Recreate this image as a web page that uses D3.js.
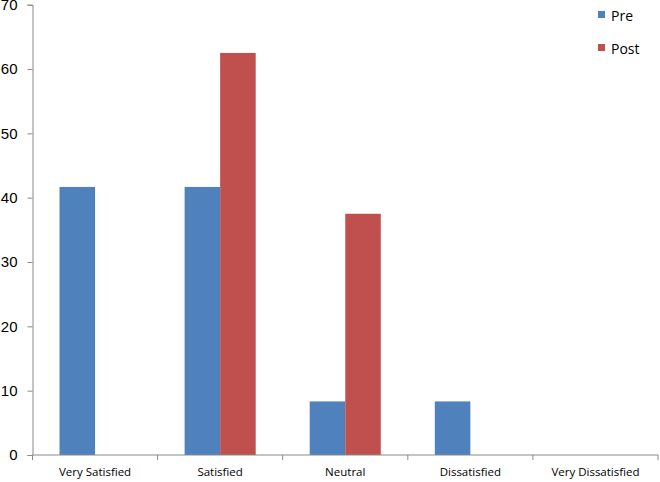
<!DOCTYPE html>
<html><head><meta charset="utf-8">
<script src="https://cdn.jsdelivr.net/npm/d3@7"></script>
<style>body{margin:0;background:#fff;}svg{display:block;font-family:"Open Sans","Liberation Sans",sans-serif;}</style>
</head><body>
<svg id="c" width="660" height="482"></svg>
<script>
const categories = ["Very Satisfied","Satisfied","Neutral","Dissatisfied","Very Dissatisfied"];
const seriesNames = ["Pre","Post"];
const preValues = [41.67, 41.67, 8.33, 8.33, 0];
const postValues = [0, 62.5, 37.5, 0, 0];
const yTicks = [0,10,20,30,40,50,60,70];
const colors = ["#4F81BD","#C0504D"];

(function(){
const svg = d3.select("#c");
const mLeft = 32.5, mRight = 658, mTop = 4.7, mBottom = 455;
const x = d3.scaleBand().domain(categories).range([mLeft, mRight]).paddingInner(0).paddingOuter(0);
const x1 = d3.scaleBand().domain(seriesNames).range([0, x.bandwidth()]).paddingInner(0).paddingOuter(0.76);
const y = d3.scaleLinear().domain([0,70]).range([mBottom, mTop]);

const data = categories.map((c,i)=>({cat:c, vals:[{s:"Pre",v:preValues[i]},{s:"Post",v:postValues[i]}]}));

const g = svg.append("g");
g.selectAll("g.cat").data(data).join("g").attr("transform", d=>`translate(${x(d.cat)},0)`)
  .selectAll("rect").data(d=>d.vals).join("rect")
  .attr("x", d=>x1(d.s)).attr("width", x1.bandwidth())
  .attr("y", d=>y(d.v)).attr("height", d=>mBottom - y(d.v))
  .attr("fill", (d,i)=>colors[i]);

// y axis
const ya = svg.append("g").attr("transform",`translate(${mLeft},0)`)
  .call(d3.axisLeft(y).tickValues(yTicks).tickSize(5).tickPadding(10).tickFormat(d3.format("d")));
ya.select(".domain").attr("stroke","#898989");
ya.selectAll(".tick line").attr("stroke","#898989");
ya.selectAll("text").attr("font-size","15px").attr("fill","#000");

// x axis
const xa = svg.append("g").attr("transform",`translate(0,${mBottom})`);
xa.append("line").attr("x1",mLeft).attr("x2",mRight).attr("y1",0).attr("y2",0).attr("stroke","#898989");
const bounds = categories.map(c=>x(c)).concat([mRight]);
xa.selectAll("line.t").data(bounds).join("line").attr("class","t")
  .attr("x1",d=>d).attr("x2",d=>d).attr("y1",0).attr("y2",5).attr("stroke","#898989");
xa.selectAll("text").data(categories).join("text")
  .attr("x", d=>x(d)+x.bandwidth()/2).attr("y", 21)
  .attr("text-anchor","middle").attr("font-size","11.5px").attr("fill","#000").text(d=>d);

// legend
const lg = svg.append("g");
seriesNames.forEach((s,i)=>{
  lg.append("rect").attr("x",598).attr("y",11+i*33).attr("width",7).attr("height",7).attr("fill",colors[i]);
  lg.append("text").attr("x",611).attr("y",21+i*33).attr("font-size","14px").attr("fill","#000").text(s);
});
})();
</script>
</body></html>
